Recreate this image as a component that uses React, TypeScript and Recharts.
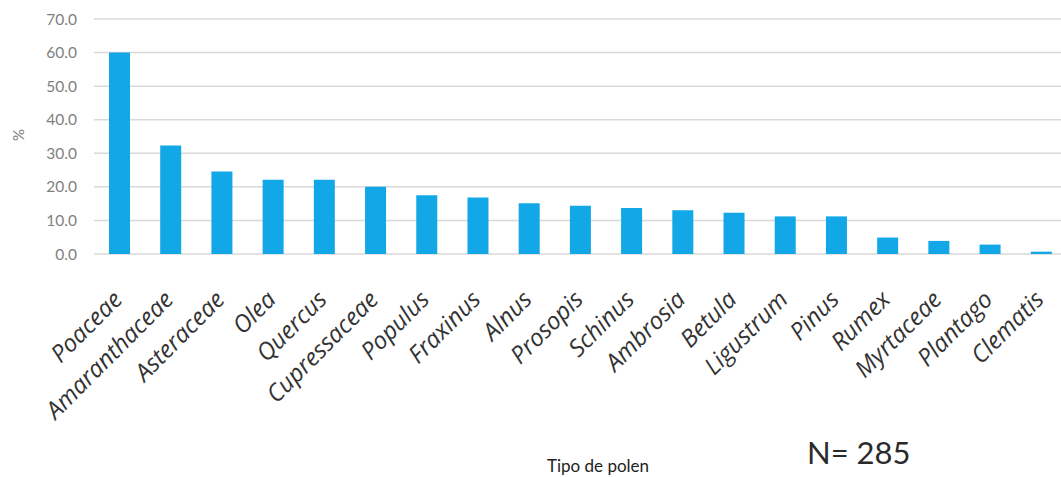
import { BarChart, Bar, XAxis, YAxis, CartesianGrid } from 'recharts'

// pollen types, sorted by frequency
const pollenTypes = [
  'Poaceae', 'Amaranthaceae', 'Asteraceae', 'Olea', 'Quercus', 'Cupressaceae',
  'Populus', 'Fraxinus', 'Alnus', 'Prosopis', 'Schinus', 'Ambrosia', 'Betula',
  'Ligustrum', 'Pinus', 'Rumex', 'Myrtaceae', 'Plantago', 'Clematis',
]

// % of patients sensitised (N = 285)
const percentages = [
  60.0, 32.3, 24.6, 22.1, 22.1, 20.0, 17.5, 16.8, 15.1, 14.4, 13.7, 13.0, 12.3,
  11.2, 11.2, 4.9, 3.9, 2.8, 0.7,
]

const yTicks = [0, 10, 20, 30, 40, 50, 60, 70]

const data = pollenTypes.map((name, i) => ({ name, pct: percentages[i] }))

const SANS = 'Lato, "Open Sans", sans-serif'

function PollenTick({ x, y, payload }: any) {
  const ax = x + 4
  const ay = y + 39
  return (
    <text
      x={ax}
      y={ay}
      transform={`rotate(-45, ${ax}, ${ay})`}
      textAnchor="end"
      fill="#333"
      fontSize={24}
      fontStyle="italic"
      fontFamily='"Open Sans", sans-serif'
    >
      {payload.value}
    </text>
  )
}

export default function App() {
  return (
    <div style={{ position: 'absolute', left: 0, top: 0, width: 1061, height: 477, overflow: 'hidden', background: '#fff' }}>
      <BarChart
        width={1067}
        height={477}
        data={data}
        margin={{ top: 19, right: 0, left: 0, bottom: 0 }}
        barSize={21}
      >
        <CartesianGrid vertical={false} stroke="#d9d9d9" strokeWidth={1.5} />
        <XAxis
          dataKey="name"
          interval={0}
          axisLine={false}
          tickLine={false}
          height={223}
          tick={<PollenTick />}
        />
        <YAxis
          width={94}
          domain={[0, 70]}
          ticks={yTicks}
          axisLine={false}
          tickLine={false}
          tickMargin={11}
          tickFormatter={(v: number) => v.toFixed(1)}
          tick={{ fill: '#808080', fontSize: 15.5, fontFamily: SANS }}
        />
        <Bar dataKey="pct" fill="#12a7e6" isAnimationActive={false} />
      </BarChart>

      <div style={{
        position: 'absolute', left: 8, top: 126, width: 20, fontSize: 15, color: '#808080',
        fontFamily: SANS, transform: 'rotate(-90deg)', textAlign: 'center',
      }}>%</div>

      <div style={{
        position: 'absolute', left: 547, top: 455, fontSize: 17, color: '#222',
        fontFamily: SANS, whiteSpace: 'nowrap',
      }}>Tipo de polen</div>

      <div style={{
        position: 'absolute', left: 807, top: 433, fontSize: 31, color: '#2a2a2a',
        fontFamily: SANS, whiteSpace: 'nowrap',
      }}>N= 285</div>
    </div>
  )
}
